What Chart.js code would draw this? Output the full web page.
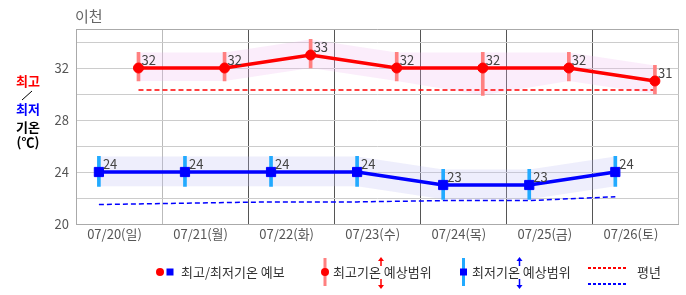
<!DOCTYPE html>
<html>
<head>
<meta charset="utf-8">
<script src="https://cdn.jsdelivr.net/npm/chart.js@4"></script>
<style>
  html, body { margin: 0; padding: 0; background: #fff; }
  canvas { display: block; }
</style>
</head>
<body>
<canvas id="tempChart" width="686" height="295"></canvas>
<script>
const dates = ["07/20(일)", "07/21(월)", "07/22(화)", "07/23(수)", "07/24(목)", "07/25(금)", "07/26(토)"];
const maxTemps = [32, 32, 33, 32, 32, 32, 31];
const minTemps = [24, 24, 24, 24, 23, 23, 24];
const maxRangeLow = [31.0, 31.0, 32.0, 31.0, 29.9, 31.0, 30.0];
const maxRangeHigh = [33.2, 33.2, 34.2, 33.2, 33.2, 33.2, 32.2];
const minRangeLow = [22.9, 22.9, 22.9, 22.9, 21.9, 21.9, 22.9];
const minRangeHigh = [25.2, 25.2, 25.2, 25.2, 24.2, 24.2, 25.2];
const maxNormals = [30.3, 30.3, 30.3, 30.3, 30.3, 30.3, 30.3];
const minNormals = [21.5, 21.6, 21.7, 21.7, 21.8, 21.8, 22.1];
const yTicks = [20, 22, 24, 26, 28, 30, 32, 34, 35];
const yLabels = [20, 24, 28, 32];

const FONT = '"Noto Sans CJK KR", "Noto Sans", sans-serif';
const RED = "#ff0000";
const BLUE = "#0000ff";
const RED_BAR = "#ff8080";
const BLUE_BAR = "#22aaff";

// min temps sit a quarter slot into each day box, max temps a bit right of centre
const X_SHIFT = 0.266;
const HI_SHIFT = 0.46;

const textPlugin = {
    id: "texts",
    afterDatasetsDraw(chart) {
        const ctx = chart.ctx;
        ctx.save();
        ctx.font = "13px " + FONT;
        ctx.fillStyle = "#444";
        ctx.textAlign = "left";
        ctx.textBaseline = "alphabetic";
        chart.getDatasetMeta(8).data.forEach((pt, i) => {
            ctx.fillText(maxTemps[i], pt.x + 3, pt.y - 3);
        });
        chart.getDatasetMeta(9).data.forEach((pt, i) => {
            ctx.fillText(minTemps[i], pt.x + 4, pt.y - 3);
        });
        ctx.restore();
    },
    afterDraw(chart) {
        const ctx = chart.ctx;
        ctx.save();
        // title
        ctx.font = "15px " + FONT;
        ctx.fillStyle = "#666";
        ctx.textBaseline = "middle";
        ctx.textAlign = "left";
        ctx.fillText("이천", 75, 16);

        // side label
        ctx.textAlign = "center";
        ctx.font = "bold 13px " + FONT;
        ctx.fillStyle = RED;
        ctx.fillText("최고", 28, 81);
        ctx.strokeStyle = "#000";
        ctx.lineWidth = 1;
        ctx.beginPath();
        ctx.moveTo(22, 100);
        ctx.lineTo(32, 91);
        ctx.stroke();
        ctx.fillStyle = BLUE;
        ctx.fillText("최저", 28, 109);
        ctx.fillStyle = "#000";
        ctx.fillText("기온", 28, 127.5);
        ctx.fillText("(℃)", 28, 142);

        // legend
        const ly = 272;
        ctx.font = "13px " + FONT;
        ctx.textAlign = "left";
        ctx.fillStyle = RED;
        ctx.beginPath();
        ctx.arc(160, ly, 4, 0, Math.PI * 2);
        ctx.fill();
        ctx.fillStyle = BLUE;
        ctx.fillRect(166.5, ly - 3.5, 7, 7);
        ctx.fillStyle = "#333";
        ctx.fillText("최고/최저기온 예보", 181, ly);

        ctx.fillStyle = RED_BAR;
        ctx.fillRect(323.5, 258, 3, 28);
        ctx.fillStyle = RED;
        ctx.beginPath();
        ctx.arc(325, ly, 4, 0, Math.PI * 2);
        ctx.fill();
        ctx.fillStyle = "#333";
        ctx.fillText("최고기온 예상범위", 333, ly);
        drawArrows(ctx, 381, RED);

        ctx.fillStyle = BLUE_BAR;
        ctx.fillRect(462, 258, 3, 28);
        ctx.fillStyle = BLUE;
        ctx.fillRect(460, ly - 3.5, 7, 7);
        ctx.fillStyle = "#333";
        ctx.fillText("최저기온 예상범위", 472, ly);
        drawArrows(ctx, 519.5, BLUE);

        ctx.lineWidth = 2;
        ctx.setLineDash([3, 2]);
        ctx.strokeStyle = RED;
        ctx.beginPath();
        ctx.moveTo(588, 268);
        ctx.lineTo(626, 268);
        ctx.stroke();
        ctx.strokeStyle = BLUE;
        ctx.beginPath();
        ctx.moveTo(588, 284);
        ctx.lineTo(626, 284);
        ctx.stroke();
        ctx.setLineDash([]);
        ctx.fillStyle = "#333";
        ctx.fillText("평년", 637, ly);
        ctx.restore();
    }
};

function drawArrows(ctx, x, color) {
    ctx.strokeStyle = color;
    ctx.fillStyle = color;
    ctx.lineWidth = 1.5;
    ctx.beginPath();
    ctx.moveTo(x, 260);
    ctx.lineTo(x, 266);
    ctx.moveTo(x, 279);
    ctx.lineTo(x, 286);
    ctx.stroke();
    ctx.beginPath();
    ctx.moveTo(x - 3, 261);
    ctx.lineTo(x + 3, 261);
    ctx.lineTo(x, 257);
    ctx.closePath();
    ctx.fill();
    ctx.beginPath();
    ctx.moveTo(x - 3, 285);
    ctx.lineTo(x + 3, 285);
    ctx.lineTo(x, 289);
    ctx.closePath();
    ctx.fill();
}

const ctx = document.getElementById("tempChart").getContext("2d");
const tempChart = new Chart(ctx, {
    type: "line",
    data: {
        labels: dates.map((d, i) => i),
        datasets: [
            {
                data: maxRangeHigh,
                xAxisID: "xHi",
                borderWidth: 0,
                borderColor: "rgba(0,0,0,0)",
                pointRadius: 0,
                fill: false,
                order: 10,
            },
            {
                data: maxRangeLow,
                xAxisID: "xHi",
                borderWidth: 0,
                borderColor: "rgba(0,0,0,0)",
                pointRadius: 0,
                fill: "-1",
                backgroundColor: "rgba(240,185,240,0.25)",
                order: 10,
            },
            {
                data: minRangeHigh,
                borderWidth: 0,
                borderColor: "rgba(0,0,0,0)",
                pointRadius: 0,
                fill: false,
                order: 10,
            },
            {
                data: minRangeLow,
                borderWidth: 0,
                borderColor: "rgba(0,0,0,0)",
                pointRadius: 0,
                fill: "-1",
                backgroundColor: "rgba(187,187,243,0.25)",
                order: 10,
            },
            {
                data: maxNormals,
                xAxisID: "xHi",
                borderColor: RED,
                borderWidth: 1.5,
                borderDash: [5, 3],
                pointRadius: 0,
                fill: false,
                order: 8,
            },
            {
                data: minNormals,
                borderColor: BLUE,
                borderWidth: 1.5,
                borderDash: [5, 3],
                pointRadius: 0,
                fill: false,
                order: 8,
            },
            {
                type: "bar",
                xAxisID: "xHi",
                data: maxRangeLow.map((v, i) => [v, maxRangeHigh[i]]),
                backgroundColor: RED_BAR,
                barThickness: 3,
                grouped: false,
                order: 6,
            },
            {
                type: "bar",
                data: minRangeLow.map((v, i) => [v, minRangeHigh[i]]),
                backgroundColor: BLUE_BAR,
                barThickness: 3,
                grouped: false,
                order: 6,
            },
            {
                data: maxTemps,
                xAxisID: "xHi",
                borderColor: RED,
                borderWidth: 3.5,
                pointStyle: "circle",
                pointRadius: 5,
                pointBackgroundColor: RED,
                pointBorderColor: RED,
                pointBorderWidth: 1,
                fill: false,
                order: 1,
            },
            {
                data: minTemps,
                borderColor: BLUE,
                borderWidth: 3.5,
                pointStyle: "rect",
                pointRadius: 6.5,
                pointBackgroundColor: BLUE,
                pointBorderColor: BLUE,
                pointBorderWidth: 1,
                fill: false,
                order: 2,
            },
        ],
    },
    options: {
        responsive: false,
        animation: false,
        events: [],
        devicePixelRatio: 1,
        layout: {
            padding: { top: 29, right: 1, left: 0, bottom: 0 },
        },
        plugins: {
            legend: { display: false },
            tooltip: { enabled: false },
        },
        scales: {
            x: {
                type: "linear",
                min: -X_SHIFT,
                max: dates.length - X_SHIFT,
                offset: false,
                afterBuildTicks: (scale) => {
                    scale.ticks = [];
                    for (let k = 0; k <= dates.length; k++) {
                        scale.ticks.push({ value: k - X_SHIFT });
                    }
                },
                afterFit: (scale) => {
                    scale.height = 71;
                },
                grid: {
                    offset: false,
                    drawTicks: false,
                    color: (c) => {
                        if (c.index === 0) return "#aaa";
                        if (c.index === 1 || c.index === dates.length) return "#bbb";
                        return "#555";
                    },
                },
                border: { color: "#aaa" },
                ticks: {
                    autoSkip: false,
                    maxRotation: 0,
                    padding: 2,
                    labelOffset: 38.5,
                    color: "#555",
                    font: { family: FONT, size: 13 },
                    callback: (value, index) => dates[index] || "",
                },
            },
            xHi: {
                type: "linear",
                display: false,
                position: "bottom",
                min: -X_SHIFT - HI_SHIFT,
                max: dates.length - X_SHIFT - HI_SHIFT,
                offset: false,
            },
            y: {
                min: 20,
                max: 35,
                afterBuildTicks: (scale) => {
                    scale.ticks = yTicks.map((v) => ({ value: v }));
                },
                afterFit: (scale) => {
                    scale.width = 76;
                },
                grid: {
                    drawTicks: false,
                    color: (c) => (c.tick && c.tick.value === 35 ? "#aaa" : "#ccc"),
                },
                border: { color: "#aaa" },
                ticks: {
                    padding: 7,
                    color: "#555",
                    font: { family: FONT, size: 13 },
                    callback: (value) => (yLabels.includes(value) ? value : ""),
                },
            },
        },
    },
    plugins: [textPlugin],
});
</script>
</body>
</html>
